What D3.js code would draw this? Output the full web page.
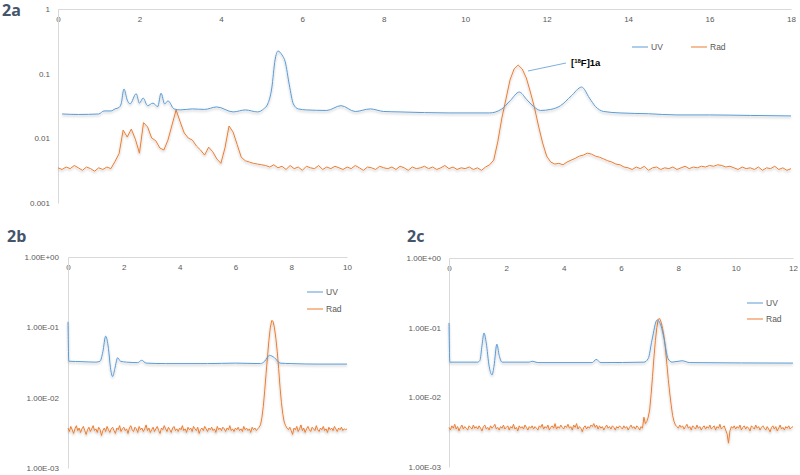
<!DOCTYPE html>
<html>
<head>
<meta charset="utf-8">
<script src="https://cdn.jsdelivr.net/npm/d3@7"></script>
<style>
  body { margin: 0; background: #fff; }
  svg { display: block; }
  .tick text { font-family: "Liberation Sans", Arial, sans-serif; font-size: 8px; fill: #595959; }
  .legend text { font-family: "Liberation Sans", Arial, sans-serif; font-size: 8.5px; fill: #595959; }
  .panel-label { font-family: "Open Sans", sans-serif; font-weight: bold; font-size: 16px; fill: #44546a; }
</style>
</head>
<body>
<script>
// --- data ---
const seriesNames = ['UV', 'Rad'];
const RAD_STEP_A = 0.1;    // radio trace sampling interval in 2a (min)
const RAD_STEP_BC = 0.05;  // in 2b / 2c

// 2a: UV points [time, signal]
const uvA = [[0.1,0.0238],[0.5,0.0234],[1.0,0.0238],[1.13,0.0265],[1.3,0.0265],[1.4,0.0285],[1.5,0.030],
  [1.55,0.034],[1.62,0.058],[1.7,0.039],[1.77,0.034],[1.92,0.049],[2.0,0.035],[2.09,0.042],[2.2,0.032],
  [2.33,0.035],[2.45,0.031],[2.53,0.050],[2.62,0.034],[2.7,0.038],[2.85,0.0285],[3.0,0.0275],[3.3,0.0285],
  [3.6,0.028],[3.9,0.0306],[4.3,0.0256],[4.6,0.0275],[4.9,0.0256],[5.05,0.0285],[5.15,0.034],[5.25,0.060],
  [5.33,0.163],[5.4,0.224],[5.5,0.195],[5.58,0.152],[5.68,0.067],[5.78,0.034],[5.9,0.0285],[6.1,0.0275],
  [6.6,0.027],[6.95,0.032],[7.3,0.026],[7.67,0.0285],[8.0,0.026],[8.4,0.0256],[9.0,0.025],[9.6,0.0247],
  [10.6,0.0247],[10.9,0.0285],[11.1,0.038],[11.33,0.052],[11.5,0.0405],[11.68,0.031],[11.85,0.027],
  [12.1,0.028],[12.34,0.032],[12.6,0.045],[12.86,0.062],[13.05,0.042],[13.2,0.031],[13.4,0.026],
  [13.8,0.0247],[14.5,0.024],[15.2,0.023],[16,0.023],[17,0.0226],[18,0.0222]];

// 2a: Rad signal, one value every RAD_STEP_A from t = 0
const radA = [
  0.0035,0.0033,0.0036,0.0034,0.0038,0.0035,0.0032,0.0036,0.0034,0.0031,
  0.0035,0.0033,0.0036,0.0034,0.0044,0.0058,0.0134,0.0105,0.0139,0.0097,
  0.0059,0.0175,0.0150,0.0101,0.0092,0.0071,0.0066,0.0094,0.0161,0.0275,
  0.0180,0.0121,0.0101,0.0094,0.0076,0.0066,0.0055,0.0073,0.0062,0.0048,
  0.0041,0.0071,0.0155,0.0125,0.0080,0.0051,0.0045,0.0043,0.0041,0.0040,
  0.0039,0.0038,0.0036,0.0039,0.0035,0.0037,0.0033,0.0038,0.0034,0.0036,
  0.0032,0.0037,0.0035,0.0034,0.0038,0.0033,0.0036,0.0034,0.0037,0.0035,
  0.0033,0.0036,0.0034,0.0038,0.0035,0.0032,0.0036,0.0035,0.0033,0.0037,
  0.0035,0.0034,0.0036,0.0033,0.0037,0.0035,0.0032,0.0036,0.0034,0.0035,
  0.0037,0.0034,0.0036,0.0033,0.0035,0.0038,0.0034,0.0036,0.0033,0.0035,
  0.0034,0.0036,0.0033,0.0035,0.0032,0.0036,0.0039,0.0046,0.0089,0.0206,
  0.0405,0.080,0.118,0.136,0.118,0.086,0.052,0.030,0.0155,0.0085,
  0.0053,0.0043,0.0040,0.0041,0.0039,0.0043,0.0046,0.0049,0.0053,0.0055,
  0.0059,0.0057,0.0053,0.0051,0.0048,0.0045,0.0043,0.0040,0.0039,0.0036,
  0.0035,0.0033,0.0036,0.0034,0.0037,0.0032,0.0035,0.0036,0.0033,0.0035,
  0.0034,0.0036,0.0033,0.0035,0.0037,0.0034,0.0036,0.0035,0.0037,0.0036,
  0.0038,0.0037,0.0039,0.0038,0.0036,0.0037,0.0035,0.0033,0.0036,0.0034,
  0.0035,0.0033,0.0036,0.0032,0.0035,0.0034,0.0037,0.0033,0.0035,0.0032,
  0.0034];

// 2b
const uvB = [[0,0.12],[0.03,0.033],[0.5,0.0325],[1.0,0.032],[1.15,0.033],[1.25,0.045],[1.35,0.075],
  [1.45,0.050],[1.52,0.027],[1.6,0.020],[1.68,0.026],[1.78,0.037],[1.88,0.033],[2.1,0.032],[2.5,0.0315],
  [2.64,0.034],[2.8,0.031],[3.5,0.0305],[5,0.0305],[6,0.031],[6.9,0.0305],[7.05,0.033],[7.22,0.040],
  [7.4,0.037],[7.6,0.031],[8,0.0305],[9,0.030],[10,0.030]];
// one value every RAD_STEP_BC, one row per minute
const radB = [
  0.0037,0.0033,0.0039,0.0035,0.0031,0.0036,0.0040,0.0034,0.0037,0.0032,0.0036,0.0039,0.0034,0.0030,0.0035,0.0038,0.0033,0.0036,0.0040,0.0034,
  0.0036,0.0032,0.0038,0.0035,0.0029,0.0034,0.0037,0.0033,0.0039,0.0035,0.0032,0.0036,0.0038,0.0034,0.0031,0.0037,0.0035,0.0040,0.0033,0.0036,
  0.0038,0.0034,0.0036,0.0031,0.0037,0.0040,0.0035,0.0033,0.0038,0.0036,0.0032,0.0039,0.0035,0.0037,0.0033,0.0036,0.0041,0.0034,0.0037,0.0032,
  0.0035,0.0038,0.0033,0.0036,0.0039,0.0034,0.0031,0.0037,0.0035,0.0040,0.0036,0.0033,0.0038,0.0035,0.0032,0.0037,0.0039,0.0034,0.0036,0.0033,
  0.0037,0.0035,0.0040,0.0034,0.0036,0.0032,0.0038,0.0035,0.0037,0.0033,0.0039,0.0036,0.0034,0.0038,0.0031,0.0035,0.0037,0.0034,0.0039,0.0036,
  0.0033,0.0037,0.0035,0.0038,0.0034,0.0036,0.0032,0.0039,0.0035,0.0037,0.0034,0.0038,0.0036,0.0033,0.0037,0.0035,0.0040,0.0034,0.0036,0.0033,
  0.0037,0.0035,0.0038,0.0034,0.0036,0.0033,0.0039,0.0035,0.0037,0.0034,0.0036,0.0032,0.0038,0.0035,0.0037,0.0034,
  0.0036,0.0038,0.0041,0.0052,0.0075,0.0125,0.022,0.038,0.065,0.098,0.125,0.122,0.098,0.070,0.045,0.026,0.014,0.0085,0.0058,0.0045,
  0.0040,0.0037,0.0035,0.0038,
  0.0034,0.0030,0.0037,0.0035,0.0039,0.0033,0.0036,0.0041,0.0034,0.0037,0.0032,0.0036,0.0039,0.0035,0.0033,0.0038,0.0036,0.0034,0.0040,0.0035,
  0.0033,0.0037,0.0035,0.0039,0.0034,0.0036,0.0032,0.0038,0.0035,0.0037,0.0034,0.0039,0.0036,0.0033,0.0037,0.0035,0.0038,0.0034,0.0036,0.0035,
  0.0036];

// 2c
const uvC = [[0,0.117],[0.03,0.032],[1.0,0.032],[1.08,0.034],[1.15,0.055],[1.22,0.084],[1.3,0.060],
  [1.4,0.028],[1.5,0.021],[1.57,0.028],[1.67,0.058],[1.75,0.040],[1.85,0.032],[2.8,0.032],[2.9,0.033],
  [3.1,0.0315],[5.0,0.0315],[5.13,0.035],[5.3,0.0315],[6.8,0.032],[6.95,0.036],[7.08,0.066],[7.26,0.129],
  [7.4,0.105],[7.5,0.070],[7.64,0.036],[7.78,0.032],[8.13,0.0335],[8.4,0.0315],[12,0.031]];
const radC = [
  0.0037,0.0034,0.0039,0.0036,0.0041,0.0035,0.0038,0.0033,0.0037,0.0040,0.0035,0.0038,0.0036,0.0034,0.0039,0.0037,0.0035,0.0040,0.0036,0.0038,
  0.0035,0.0039,0.0036,0.0033,0.0038,0.0040,0.0035,0.0037,0.0034,0.0039,0.0036,0.0038,0.0041,0.0035,0.0037,0.0034,0.0038,0.0036,0.0040,0.0035,
  0.0037,0.0039,0.0034,0.0038,0.0036,0.0041,0.0035,0.0037,0.0033,0.0039,0.0036,0.0038,0.0035,0.0040,0.0037,0.0034,0.0038,0.0036,0.0039,0.0035,
  0.0038,0.0036,0.0034,0.0039,0.0037,0.0041,0.0035,0.0038,0.0036,0.0040,0.0034,0.0037,0.0039,0.0036,0.0042,0.0035,0.0038,0.0036,0.0040,0.0037,
  0.0035,0.0039,0.0037,0.0041,0.0036,0.0038,0.0034,0.0040,0.0037,0.0042,0.0035,0.0038,0.0036,0.0032,0.0037,0.0039,0.0035,0.0038,0.0036,0.0040,
  0.0038,0.0042,0.0037,0.0040,0.0035,0.0039,0.0036,0.0038,0.0034,0.0037,0.0040,0.0036,0.0038,0.0035,0.0039,0.0037,0.0034,0.0038,0.0036,0.0039,
  0.0037,0.0035,0.0039,0.0036,0.0038,0.0034,0.0037,0.0040,0.0036,0.0038,0.0035,0.0039,0.0037,0.0034,0.0038,0.0036,
  0.0052,0.0042,0.0045,0.0052,0.0066,0.011,0.020,0.038,0.065,0.100,0.133,0.135,0.120,0.098,0.075,0.050,0.030,0.018,0.0115,0.0078,
  0.0055,0.0045,0.0040,0.0038,
  0.0036,0.0040,0.0037,0.0039,0.0035,0.0038,0.0041,0.0036,0.0038,0.0034,0.0039,0.0037,0.0035,0.0040,0.0036,0.0038,0.0034,0.0037,0.0039,0.0035,
  0.0038,0.0036,0.0040,0.0035,0.0037,0.0039,0.0034,0.0038,0.0036,0.0041,0.0035,0.0037,0.0039,0.0034,0.0030,0.0022,0.0033,0.0038,0.0036,0.0039,
  0.0035,0.0038,0.0036,0.0040,0.0034,0.0037,0.0039,0.0035,0.0038,0.0036,0.0033,0.0039,0.0037,0.0035,0.0040,0.0036,0.0038,0.0034,0.0037,0.0039,
  0.0036,0.0034,0.0038,0.0035,0.0032,0.0037,0.0039,0.0035,0.0038,0.0033,0.0036,0.0040,0.0035,0.0037,0.0034,0.0038,0.0036,0.0039,0.0035,0.0037,
  0.0038];

const xTicksA = [0,2,4,6,8,10,12,14,16,18];
const xTicksB = [0,2,4,6,8,10];
const xTicksC = [0,2,4,6,8,10,12];
const yTicks = [1, 0.1, 0.01, 0.001];

const colors = { UV: '#5b9bd5', Rad: '#ed7d31' };
const axisColor = '#d9d9d9';

const svg = d3.select('body').append('svg').attr('width', 800).attr('height', 475);

const defs = svg.append('defs');
defs.append('filter').attr('id', 'shadow')
    .attr('x', '-5%').attr('y', '-20%').attr('width', '110%').attr('height', '140%')
  .append('feDropShadow')
    .attr('dx', 0).attr('dy', 1.5).attr('stdDeviation', 0.9)
    .attr('flood-color', '#000').attr('flood-opacity', 0.28);

// Excel style scientific label: 1.00E-01
function sciFormat(v) {
    const s = v.toExponential(2).toUpperCase();
    return s.replace(/E([+-])(\d)$/, 'E$10$2');
}

function drawPanel(p) {
    const x = d3.scaleLinear().domain(p.xDomain).range([p.left, p.right]);
    const y = d3.scaleLog().domain([0.001, 1]).range([p.bottom, p.top]);
    const g = svg.append('g');

    const xAxis = g.append('g')
        .attr('transform', `translate(0,${p.top})`)
        .call(d3.axisBottom(x).tickValues(p.xTicks).tickSize(0).tickPadding(7).tickFormat(d3.format('d')));
    const yAxis = g.append('g')
        .attr('transform', `translate(${p.left},0)`)
        .call(d3.axisLeft(y).tickValues(yTicks).tickSize(0).tickPadding(p.yPad).tickFormat(p.yFormat));
    [xAxis, yAxis].forEach(a => {
        a.select('.domain').attr('stroke', axisColor).attr('stroke-width', 1);
    });

    const uvLine = d3.line()
        .x(d => x(d[0])).y(d => y(d[1]))
        .curve(d3.curveMonotoneX);
    const radLine = d3.line()
        .x((d, i) => x(i * p.radStep)).y(d => y(d));

    g.append('path').datum(p.rad)
        .attr('d', radLine)
        .attr('fill', 'none').attr('stroke', colors.Rad).attr('stroke-width', 1)
        .attr('stroke-linejoin', 'round')
        .attr('filter', 'url(#shadow)');
    g.append('path').datum(p.uv)
        .attr('d', uvLine)
        .attr('fill', 'none').attr('stroke', colors.UV).attr('stroke-width', 1)
        .attr('filter', 'url(#shadow)');

    g.append('text').attr('class', 'panel-label')
        .attr('x', p.label[1]).attr('y', p.label[2]).text(p.label[0]);

    const leg = g.append('g').attr('class', 'legend');
    seriesNames.forEach((name, i) => {
        const lx = p.legend.x + i * p.legend.dx;
        const ly = p.legend.y + i * p.legend.dy;
        leg.append('line')
            .attr('x1', lx).attr('x2', lx + 16).attr('y1', ly).attr('y2', ly)
            .attr('stroke', colors[name]).attr('stroke-width', 1);
        leg.append('text').attr('x', lx + 19).attr('y', ly).attr('dy', '0.35em').text(name);
    });
    return { x, y, g };
}

const panelA = drawPanel({
    xDomain: [0, 18], left: 58, right: 791, top: 9, bottom: 203,
    xTicks: xTicksA, yFormat: d3.format('~g'), yPad: 8,
    uv: uvA, rad: radA, radStep: RAD_STEP_A, label: ['2a', 2, 16],
    legend: { x: 632, y: 47, dx: 59, dy: 0 }
});
drawPanel({
    xDomain: [0, 10], left: 68, right: 347, top: 257, bottom: 468,
    xTicks: xTicksB, yFormat: sciFormat, yPad: 9,
    uv: uvB, rad: radB, radStep: RAD_STEP_BC, label: ['2b', 7, 242],
    legend: { x: 307, y: 292, dx: 0, dy: 17 }
});
drawPanel({
    xDomain: [0, 12], left: 449, right: 793, top: 258, bottom: 467,
    xTicks: xTicksC, yFormat: sciFormat, yPad: 8,
    uv: uvC, rad: radC, radStep: RAD_STEP_BC, label: ['2c', 407, 242],
    legend: { x: 747, y: 303, dx: 0, dy: 16 }
});

// callout for the product peak in 2a
panelA.g.append('line')
    .attr('x1', 528).attr('y1', 71).attr('x2', 566).attr('y2', 63)
    .attr('stroke', colors.UV).attr('stroke-width', 0.8);
const ann = panelA.g.append('text')
    .attr('x', 571).attr('y', 66)
    .style('font-family', '"Liberation Sans", Arial, sans-serif')
    .style('font-weight', 'bold').style('font-size', '9.5px').style('fill', '#000');
ann.append('tspan').text('[');
ann.append('tspan').attr('dy', -3).style('font-size', '6px').text('18');
ann.append('tspan').attr('dy', 3).text('F]1a');
</script>
</body>
</html>
